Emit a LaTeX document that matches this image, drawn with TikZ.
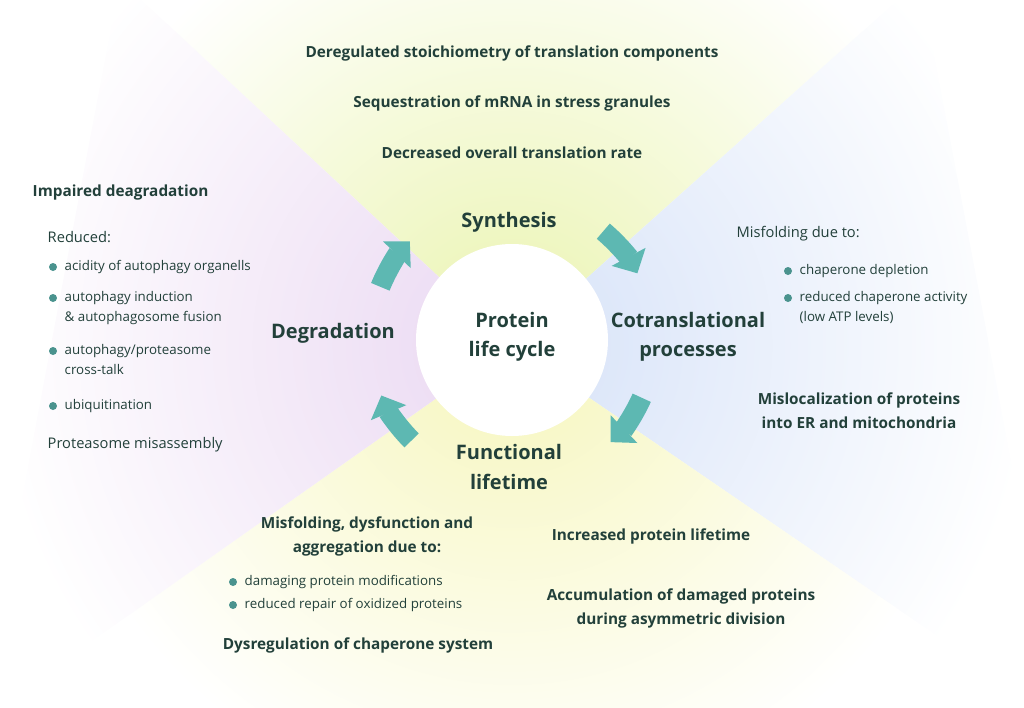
\documentclass[tikz,border=0pt]{standalone}
\usepackage{fontspec}
\setmainfont{Open Sans}
\usetikzlibrary{arrows.meta}
\definecolor{tx}{HTML}{22403A}
\definecolor{teal}{HTML}{5DB8B2}
\definecolor{cy}{HTML}{EAF4B0}
\definecolor{cb}{HTML}{D6E2F8}
\definecolor{cp}{HTML}{EAD8F2}
\definecolor{cl}{HTML}{F6F6BC}
\begin{document}
\begin{tikzpicture}[x=0.75pt,y=-0.75pt,
  every node/.style={text=tx},
  n/.style={font=\fontsize{11}{15}\selectfont, anchor=west, align=left},
  s/.style={font=\fontsize{10}{15}\selectfont, anchor=west, align=left},
  h/.style={font=\fontsize{15}{22}\selectfont\bfseries, align=center},
  m/.style={font=\fontsize{11.5}{18}\selectfont\fontseries{sb}\selectfont, align=center},
  ml/.style={m, anchor=west},
  dot/.style={circle, fill=teal!80!black, inner sep=0pt, minimum size=6pt},
  arr/.style={teal, line width=15pt, -{Triangle[length=14pt,width=28pt]}}]
\useasboundingbox (0,0) rectangle (1024,707);
\coordinate (c) at (512,345);
% sectors
\begin{scope}
\clip (c) -- (120,-20) -- (920,-20) -- cycle;
\shade[inner color=cy, outer color=white] (c) circle (470);
\end{scope}
\begin{scope}
\clip (c) -- (920,-20) -- (1060,720) -- cycle;
\shade[inner color=cb, outer color=white] (c) circle (520);
\end{scope}
\begin{scope}
\clip (c) -- (1060,720) -- (-20,720) -- cycle;
\shade[inner color=cl, outer color=white] (c) circle (470);
\end{scope}
\begin{scope}
\clip (c) -- (-20,720) -- (120,-20) -- cycle;
\shade[inner color=cp, outer color=white] (c) circle (520);
\end{scope}
\fill[white] (512,340) circle (96);
% arrows
\draw[arr] ([shift={(-158:142)}]512,340) arc[start angle=-158, end angle=-136, radius=142];
\draw[arr] ([shift={(-50:142)}]512,340) arc[start angle=-50, end angle=-28, radius=142];
\draw[arr] ([shift={(24:142)}]512,340) arc[start angle=24, end angle=46, radius=142];
\draw[arr] ([shift={(135:142)}]512,340) arc[start angle=135, end angle=157, radius=142];
% headings
\node[h] (core) at (512,337) {Protein\\life cycle};
\node[h] (syn) at (509,222) {Synthesis};
\node[h] (deg) at (333,333) {Degradation};
\node[h] (cot) at (688,337) {Cotranslational\\processes};
\node[h] (fun) at (509,467) {Functional\\lifetime};
% top
\node[m] (t1) at (512,53) {Deregulated stoichiometry of translation components};
\node[m] (t2) at (512,103) {Sequestration of mRNA in stress granules};
\node[m] (t3) at (512,153) {Decreased overall translation rate};
% left
\node[ml] (l0) at (28,193) {Impaired deagradation};
\node[n] (l1) at (43,237) {Reduced:};
\node[dot] (d1) at (53,267) {};
\node[s] (l2) at (60,267) {acidity of autophagy organells};
\node[dot] (d2) at (53,298) {};
\node[s, anchor=north west] (l3) at (60,287) {autophagy induction\\\& autophagosome fusion};
\node[dot] (d3) at (53,351) {};
\node[s, anchor=north west] (l4) at (60,340) {autophagy/proteasome\\cross-talk};
\node[dot] (d4) at (53,406) {};
\node[s] (l5) at (60,406) {ubiquitination};
\node[n] (l6) at (43,445) {Proteasome misassembly};
% right
\node[n] (r0) at (732,234) {Misfolding due to:};
\node[dot] (d5) at (788,271) {};
\node[s] (r1) at (795,271) {chaperone depletion};
\node[dot] (d6) at (788,298) {};
\node[s, anchor=north west] (r2) at (795,287) {reduced chaperone activity\\(low ATP levels)};
\node[m] (r3) at (859,411) {Mislocalization of proteins\\into ER and mitochondria};
% bottom
\node[m] (b1) at (367,536) {Misfolding, dysfunction and\\aggregation due to:};
\node[dot] (d7) at (233,582) {};
\node[s] (b2) at (240,582) {damaging protein modifications};
\node[dot] (d8) at (233,605) {};
\node[s] (b3) at (240,605) {reduced repair of oxidized proteins};
\node[m] (b4) at (358,645) {Dysregulation of chaperone system};
\node[m] (b5) at (651,536) {Increased protein lifetime};
\node[m] (b6) at (681,608) {Accumulation of damaged proteins\\during asymmetric division};
\end{tikzpicture}
\end{document}
